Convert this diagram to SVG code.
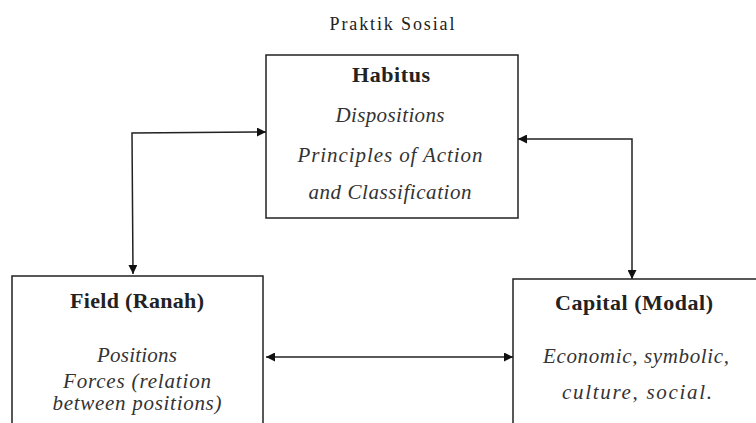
<svg xmlns="http://www.w3.org/2000/svg" width="756" height="423" viewBox="0 0 756 423">
<defs>
<marker id="ah" viewBox="0 0 10 10" refX="10" refY="5" markerWidth="9" markerHeight="9" markerUnits="userSpaceOnUse" orient="auto-start-reverse">
<path d="M0,0 L10,5 L0,10 z" fill="#111"/>
</marker>
<style>
.box{fill:#fff;stroke:#222;stroke-width:1.5}
.con{fill:none;stroke:#222;stroke-width:1.5}
.t{font-family:"Liberation Serif","Times New Roman",serif;fill:#222;text-anchor:middle}
.b{font-weight:bold;font-size:22px}
.i{font-style:italic;font-size:21px;fill:#333}
</style>
</defs>
<rect width="756" height="423" fill="#fff"/>
<text class="t" x="392" y="30" font-size="18" textLength="125">Praktik Sosial</text>
<g id="habitus">
<rect class="box" x="266" y="55" width="252" height="163"/>
<text class="t b" x="391" y="82" textLength="78">Habitus</text>
<text class="t i" x="390" y="122" textLength="109">Dispositions</text>
<text class="t i" x="390" y="162" textLength="185">Principles of Action</text>
<text class="t i" x="390" y="199" textLength="163">and Classification</text>
</g>
<g id="field">
<rect class="box" x="12" y="276" width="251" height="160"/>
<text class="t b" x="137" y="308" textLength="134">Field (Ranah)</text>
<text class="t i" x="137" y="362" textLength="80">Positions</text>
<text class="t i" x="137" y="388" textLength="148">Forces (relation</text>
<text class="t i" x="137" y="410" textLength="169">between positions)</text>
</g>
<g id="capital">
<rect class="box" x="513" y="279" width="260" height="160"/>
<text class="t b" x="634" y="310" textLength="158">Capital (Modal)</text>
<text class="t i" x="636" y="363" textLength="186">Economic, symbolic,</text>
<text class="t i" x="637" y="399" textLength="150">culture, social.</text>
</g>
<g id="connectors">
<path class="con" d="M133,274 L132,133 L266,132" marker-start="url(#ah)" marker-end="url(#ah)"/>
<path class="con" d="M518,139 L632,139 L632,279" marker-start="url(#ah)" marker-end="url(#ah)"/>
<path class="con" d="M266,357 L513,357" marker-start="url(#ah)" marker-end="url(#ah)"/>
</g>
</svg>
